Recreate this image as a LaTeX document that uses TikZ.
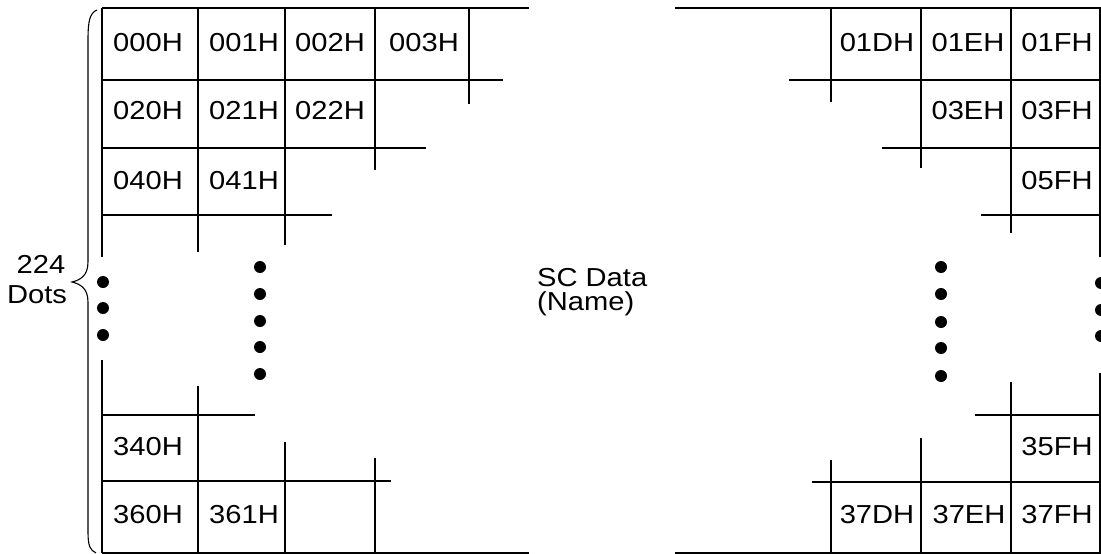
\documentclass[tikz,border=0pt]{standalone}
\usepackage{fontspec}
\setmainfont{Liberation Sans}[FakeStretch=1.12]
\begin{document}
\begin{tikzpicture}[x=1pt,y=-1pt,
  gridline/.style={line width=1.9pt, line cap=butt},
  bracestyle/.style={line width=1.1pt},
  cell/.style={inner sep=0pt, font=\fontsize{26}{22}\selectfont},
  label/.style={inner sep=0pt, anchor=base, font=\fontsize{26}{22}\selectfont},
  dotmark/.style={fill=black, draw=none}]
\useasboundingbox (0,0) rectangle (1101,554);
% ---------------- left grid ----------------
\draw[gridline] (102,8) -- (529,8);
\draw[gridline] (102,80) -- (503,80);
\draw[gridline] (102,148) -- (426,148);
\draw[gridline] (102,215) -- (332,215);
\draw[gridline] (102,415) -- (255,415);
\draw[gridline] (102,481) -- (391,481);
\draw[gridline] (102,553) -- (529,553);
\draw[gridline] (102,8) -- (102,257);
\draw[gridline] (102,360) -- (102,553);
\draw[gridline] (198,8) -- (198,252);
\draw[gridline] (198,386) -- (198,553);
\draw[gridline] (285,8) -- (285,245);
\draw[gridline] (285,442) -- (285,553);
\draw[gridline] (375,8) -- (375,170);
\draw[gridline] (375,458) -- (375,553);
\draw[gridline] (469,8) -- (469,104);
% ---------------- right grid ----------------
\draw[gridline] (675,8) -- (1101,8);
\draw[gridline] (789,80) -- (1101,80);
\draw[gridline] (882,148) -- (1101,148);
\draw[gridline] (981,215) -- (1101,215);
\draw[gridline] (975,415) -- (1101,415);
\draw[gridline] (812,482) -- (1101,482);
\draw[gridline] (675,553) -- (1101,553);
\draw[gridline] (831,8) -- (831,102);
\draw[gridline] (831,460) -- (831,553);
\draw[gridline] (921,8) -- (921,168);
\draw[gridline] (921,438) -- (921,553);
\draw[gridline] (1011,8) -- (1011,233);
\draw[gridline] (1011,382) -- (1011,553);
\draw[gridline] (1099.6,8) -- (1099.6,257);
\draw[gridline] (1099.6,373) -- (1099.6,553);
% ---------------- dots ----------------
\foreach \yy in {282,308,335} \fill[dotmark] (103,\yy) circle (6);
\foreach \yy in {267,294,321,347,374} \fill[dotmark] (260,\yy) circle (6);
\foreach \yy in {267,294,322,348,376} \fill[dotmark] (941,\yy) circle (6);
\foreach \yy in {283,310,336} \fill[dotmark] (1101,\yy) circle (6);
% ---------------- brace ----------------
\draw[bracestyle] (97,10) .. controls (90,13) and (88,20) .. (88,40)
  -- (88,262) .. controls (88,276) and (80,280) .. (72,282)
  .. controls (80,284) and (88,288) .. (88,302)
  -- (88,532) .. controls (88,546) and (90,550) .. (96,553);
% ---------------- labels ----------------
\node[label] (n224) at (41,273) {224};
\node[label] (ndots) at (37,303) {Dots};
\node[label, anchor=base west] (sc1) at (537,286) {SC Data};
\node[label, anchor=base west] (sc2) at (537,310) {(Name)};
% ---------------- cell texts ----------------
\node[cell] (c000) at (148,43) {000H};
\node[cell] (c001) at (244,43) {001H};
\node[cell] (c002) at (330,43) {002H};
\node[cell] (c003) at (424,43) {003H};
\node[cell] (c020) at (148,111) {020H};
\node[cell] (c021) at (244,111) {021H};
\node[cell] (c022) at (330,111) {022H};
\node[cell] (c040) at (148,181) {040H};
\node[cell] (c041) at (244,181) {041H};
\node[cell] (c340) at (148,447) {340H};
\node[cell] (c360) at (148,515) {360H};
\node[cell] (c361) at (244,515) {361H};
\node[cell] (c01D) at (877,43) {01DH};
\node[cell] (c01E) at (968,43) {01EH};
\node[cell] (c01F) at (1057,43) {01FH};
\node[cell] (c03E) at (968,111) {03EH};
\node[cell] (c03F) at (1057,111) {03FH};
\node[cell] (c05F) at (1057,181) {05FH};
\node[cell] (c35F) at (1057,447) {35FH};
\node[cell] (c37D) at (877,515) {37DH};
\node[cell] (c37E) at (969,515) {37EH};
\node[cell] (c37F) at (1057,515) {37FH};
\end{tikzpicture}
\end{document}
